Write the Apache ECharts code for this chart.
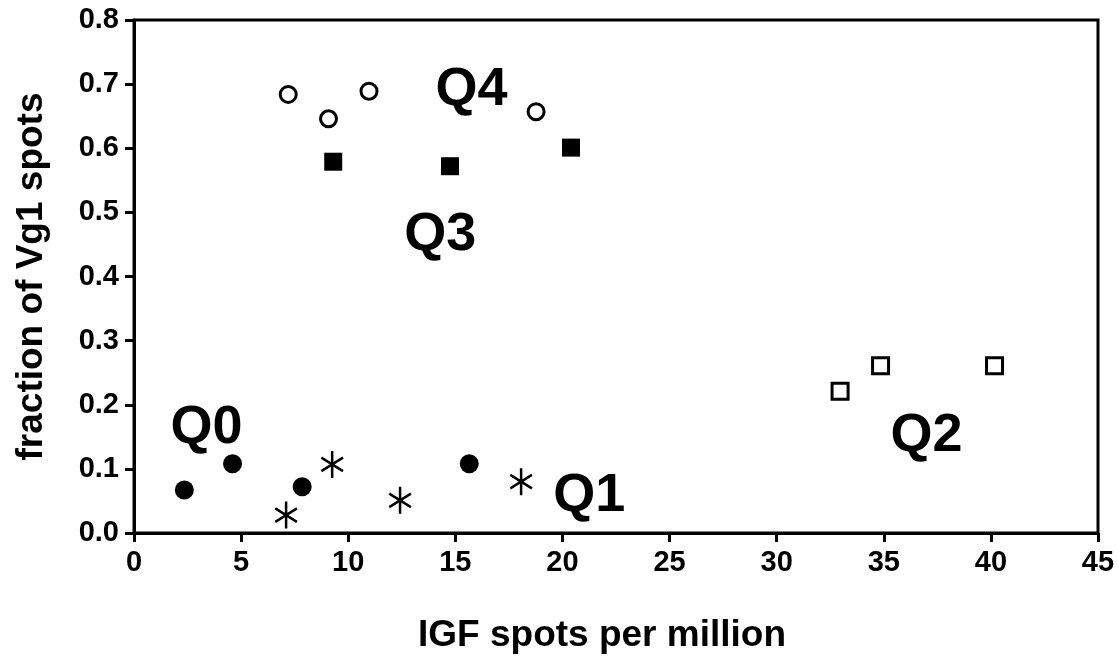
<!DOCTYPE html>
<html>
<head>
<meta charset="utf-8">
<script src="https://cdn.jsdelivr.net/npm/echarts@6/dist/echarts.min.js"></script>
<style>
html,body{margin:0;padding:0;background:#fff;}
#chart{width:1119px;height:659px;}
</style>
</head>
<body>
<div id="chart"></div>
<script>
// Data: [IGF spots per million, fraction of Vg1 spots]
const q0Filled = [[2.35, 0.067], [4.6, 0.108], [7.85, 0.072], [15.65, 0.108]];
const q1Star = [[7.1, 0.028], [9.25, 0.107], [12.42, 0.051], [18.07, 0.080]];
const q4Open = [[7.2, 0.684], [9.08, 0.646], [10.97, 0.689], [18.77, 0.657]];
const q3Square = [[9.3, 0.579], [14.75, 0.572], [20.4, 0.601]];
const q2OpenSquare = [[32.96, 0.221], [34.85, 0.261], [40.17, 0.261]];
// Group labels placed in data coordinates
const groupLabels = [[15.75, 0.69, 'Q4'], [14.3, 0.465, 'Q3'], [3.38, 0.163, 'Q0'], [21.25, 0.058, 'Q1'], [37.0, 0.151, 'Q2']];
const xTicks = { min: 0, max: 45, interval: 5 };
const yTicks = { min: 0, max: 0.8, interval: 0.1 };

const FONT = '"Liberation Sans", Arial, sans-serif';
const chart = echarts.init(document.getElementById('chart'), null, { renderer: 'canvas' });
const star = 'path://M10,0L10,20M1.34,5L18.66,15M1.34,15L18.66,5';

chart.setOption({
  backgroundColor: '#ffffff',
  animation: false,
  grid: { left: 134, top: 20, width: 964, height: 514, show: true, borderColor: '#000', borderWidth: 3, backgroundColor: 'transparent' },
  xAxis: {
    type: 'value', min: xTicks.min, max: xTicks.max, interval: xTicks.interval,
    name: 'IGF spots per million', nameLocation: 'middle', nameGap: 84,
    nameTextStyle: { fontFamily: FONT, fontWeight: 'bold', fontSize: 37, color: '#000', padding: [0, 28, 0, 0] },
    axisLine: { lineStyle: { color: '#000', width: 3 } },
    axisTick: { show: true, inside: false, length: 9, lineStyle: { color: '#000', width: 3 } },
    axisLabel: { fontFamily: FONT, fontWeight: 'bold', fontSize: 29, color: '#000', margin: 15 },
    splitLine: { show: false }
  },
  yAxis: {
    type: 'value', min: yTicks.min, max: yTicks.max, interval: yTicks.interval,
    name: 'fraction of Vg1 spots', nameLocation: 'middle', nameGap: 84,
    nameTextStyle: { fontFamily: FONT, fontWeight: 'bold', fontSize: 37, color: '#000' },
    axisLine: { lineStyle: { color: '#000', width: 3 } },
    axisTick: { show: true, inside: false, length: 9, lineStyle: { color: '#000', width: 3 } },
    axisLabel: { fontFamily: FONT, fontWeight: 'bold', fontSize: 29, color: '#000', margin: 15,
      formatter: v => v.toFixed(1) },
    splitLine: { show: false }
  },
  series: [
    { type: 'scatter', data: q0Filled, symbol: 'circle', symbolSize: 19, itemStyle: { color: '#000', opacity: 1 } },
    { type: 'scatter', data: q1Star, symbol: star, symbolSize: [25, 27], symbolKeepAspect: true,
      itemStyle: { color: 'none', borderColor: '#000', borderWidth: 2.6, opacity: 1 } },
    { type: 'scatter', data: q4Open, symbol: 'circle', symbolSize: 16, itemStyle: { color: '#fff', borderColor: '#000', borderWidth: 3, opacity: 1 } },
    { type: 'scatter', data: q3Square, symbol: 'rect', symbolSize: 18, itemStyle: { color: '#000', opacity: 1 } },
    { type: 'scatter', data: q2OpenSquare, symbol: 'rect', symbolSize: 16, itemStyle: { color: '#fff', borderColor: '#000', borderWidth: 3, opacity: 1 } },
    { type: 'scatter', data: groupLabels, symbolSize: 0, silent: true, itemStyle: { opacity: 1 },
      label: { show: true, position: 'inside', formatter: p => p.data[2], opacity: 1,
        fontFamily: FONT, fontWeight: 'bold', fontSize: 54, color: '#000' } }
  ]
});
</script>
</body>
</html>
